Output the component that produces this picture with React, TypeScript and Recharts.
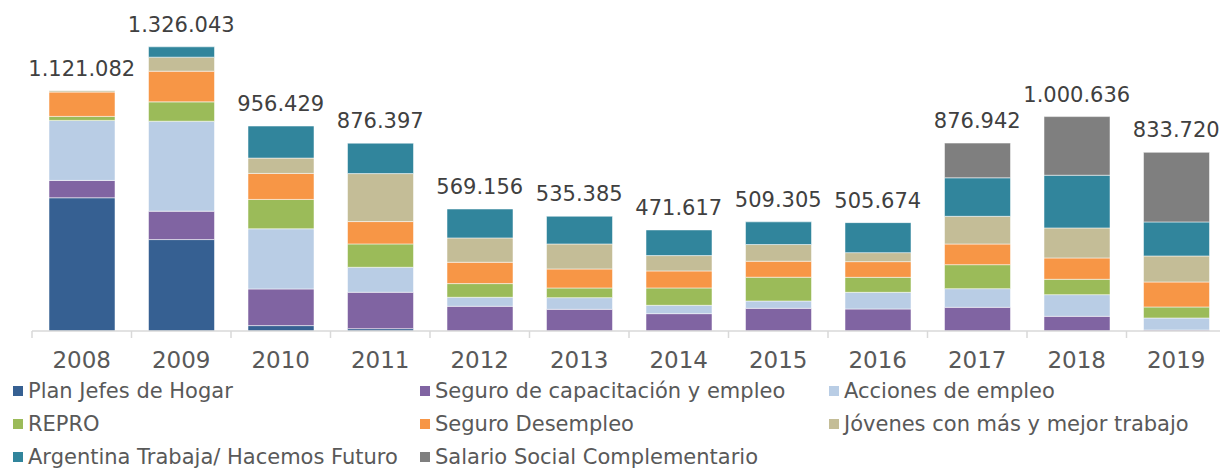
import React from "react";
import {
  ComposedChart,
  Bar,
  Line,
  XAxis,
  YAxis,
  LabelList,
} from "recharts";

const FONT = "'DejaVu Sans', sans-serif";

const YEARS = ["2008", "2009", "2010", "2011", "2012", "2013", "2014", "2015", "2016", "2017", "2018", "2019"];
const TOTALS = [1121082, 1326043, 956429, 876397, 569156, 535385, 471617, 509305, 505674, 876942, 1000636, 833720];

const PLAN_JEFES = [621800, 426700, 25200, 11000, 0, 0, 0, 0, 0, 0, 0, 0];
const SEGURO_CAP = [81000, 132300, 171000, 169700, 115300, 101200, 81000, 105800, 102700, 110500, 68500, 4700];
const ACCIONES = [280000, 420000, 280800, 116700, 42000, 54500, 38900, 34200, 77800, 87100, 101200, 56000];
const REPRO = [18700, 90300, 137000, 108900, 63900, 45100, 81000, 111000, 70000, 112000, 71600, 51400];
const DESEMPLEO = [113600, 143200, 121400, 104400, 99600, 88700, 79400, 74700, 73200, 96400, 99600, 116700];
const JOVENES = [6000, 65400, 71600, 223900, 113600, 116700, 71600, 77800, 42000, 129200, 140100, 121400];
const ARG_TRABAJA = [0, 48200, 149400, 141800, 134800, 129200, 119700, 105800, 140000, 179800, 245900, 158700];
const SALARIO = [0, 0, 0, 0, 0, 0, 0, 0, 0, 161900, 273700, 324800];

const SERIES = [
  { key: "planJefes", name: "Plan Jefes de Hogar", color: "#366092", values: PLAN_JEFES },
  { key: "seguroCap", name: "Seguro de capacitación y empleo", color: "#8064a2", values: SEGURO_CAP },
  { key: "acciones", name: "Acciones de empleo", color: "#b9cde5", values: ACCIONES },
  { key: "repro", name: "REPRO", color: "#9bbb59", values: REPRO },
  { key: "desempleo", name: "Seguro Desempleo", color: "#f79646", values: DESEMPLEO },
  { key: "jovenes", name: "Jóvenes con más y mejor trabajo", color: "#c4bd97", values: JOVENES },
  { key: "argTrabaja", name: "Argentina Trabaja/ Hacemos Futuro", color: "#31859c", values: ARG_TRABAJA },
  { key: "salario", name: "Salario Social Complementario", color: "#7f7f7f", values: SALARIO },
];

const data = YEARS.map((year, i) => {
  const row: Record<string, string | number> = { year, total: TOTALS[i] };
  SERIES.forEach((s) => {
    row[s.key] = s.values[i];
  });
  return row;
});

const fmt = (v: number) => String(v).replace(/\B(?=(\d{3})+(?!\d))/g, ".");

// ticks between categories, like the spreadsheet original
const YearTick = (props: any) => {
  const { x, y, payload } = props;
  const half = payload.offset || 49.75;
  const last = payload.index === YEARS.length - 1;
  return (
    <g>
      <line x1={x - half} x2={x - half} y1={y - 8} y2={y - 1} stroke="#d9d9d9" strokeWidth={1.5} />
      {last && <line x1={x + half} x2={x + half} y1={y - 8} y2={y - 1} stroke="#d9d9d9" strokeWidth={1.5} />}
      <text x={x} y={y + 29} textAnchor="middle" fill="#595959" fontSize={23} fontFamily={FONT}>
        {payload.value}
      </text>
    </g>
  );
};

const LEGEND_COLS = [13, 420, 829];

function LegendBlock() {
  return (
    <div style={{ position: "absolute", left: 0, top: 374, width: 1220 }}>
      {SERIES.map((s, i) => (
        <div
          key={s.key}
          style={{
            position: "absolute",
            left: LEGEND_COLS[i % 3],
            top: Math.floor(i / 3) * 33,
            height: 33,
            display: "flex",
            alignItems: "center",
            whiteSpace: "nowrap",
            fontFamily: FONT,
            fontSize: 21,
            color: "#595959",
          }}
        >
          <span style={{ display: "inline-block", width: 10, height: 10, background: s.color, marginRight: 5 }} />
          {s.name}
        </div>
      ))}
    </div>
  );
}

export default function App() {
  return (
    <div style={{ position: "absolute", left: 0, top: 0, width: 1220, height: 468, overflow: "hidden", background: "#fff" }}>
      <ComposedChart
        width={1240}
        height={468}
        data={data}
        margin={{ top: 31, right: 14, left: 32, bottom: 97 }}
      >
        <XAxis
          dataKey="year"
          height={40}
          interval={0}
          tickLine={false}
          axisLine={{ stroke: "#d9d9d9", strokeWidth: 1.5 }}
          tick={<YearTick />}
        />
        <YAxis hide domain={[0, 1400000]} />
        {SERIES.map((s) => (
          <Bar
            key={s.key}
            dataKey={s.key}
            name={s.name}
            stackId="a"
            fill={s.color}
            barSize={66}
            stroke="#ffffff"
            strokeOpacity={0.5}
            strokeWidth={1}
            isAnimationActive={false}
          />
        ))}
        <Line
          dataKey="total"
          stroke="none"
          dot={false}
          activeDot={false}
          legendType="none"
          isAnimationActive={false}
        >
          <LabelList
            dataKey="total"
            position="top"
            offset={15}
            formatter={(v: any) => fmt(Number(v))}
            fill="#404040"
            fontSize={21}
            fontFamily={FONT}
          />
        </Line>
      </ComposedChart>
      <LegendBlock />
    </div>
  );
}
